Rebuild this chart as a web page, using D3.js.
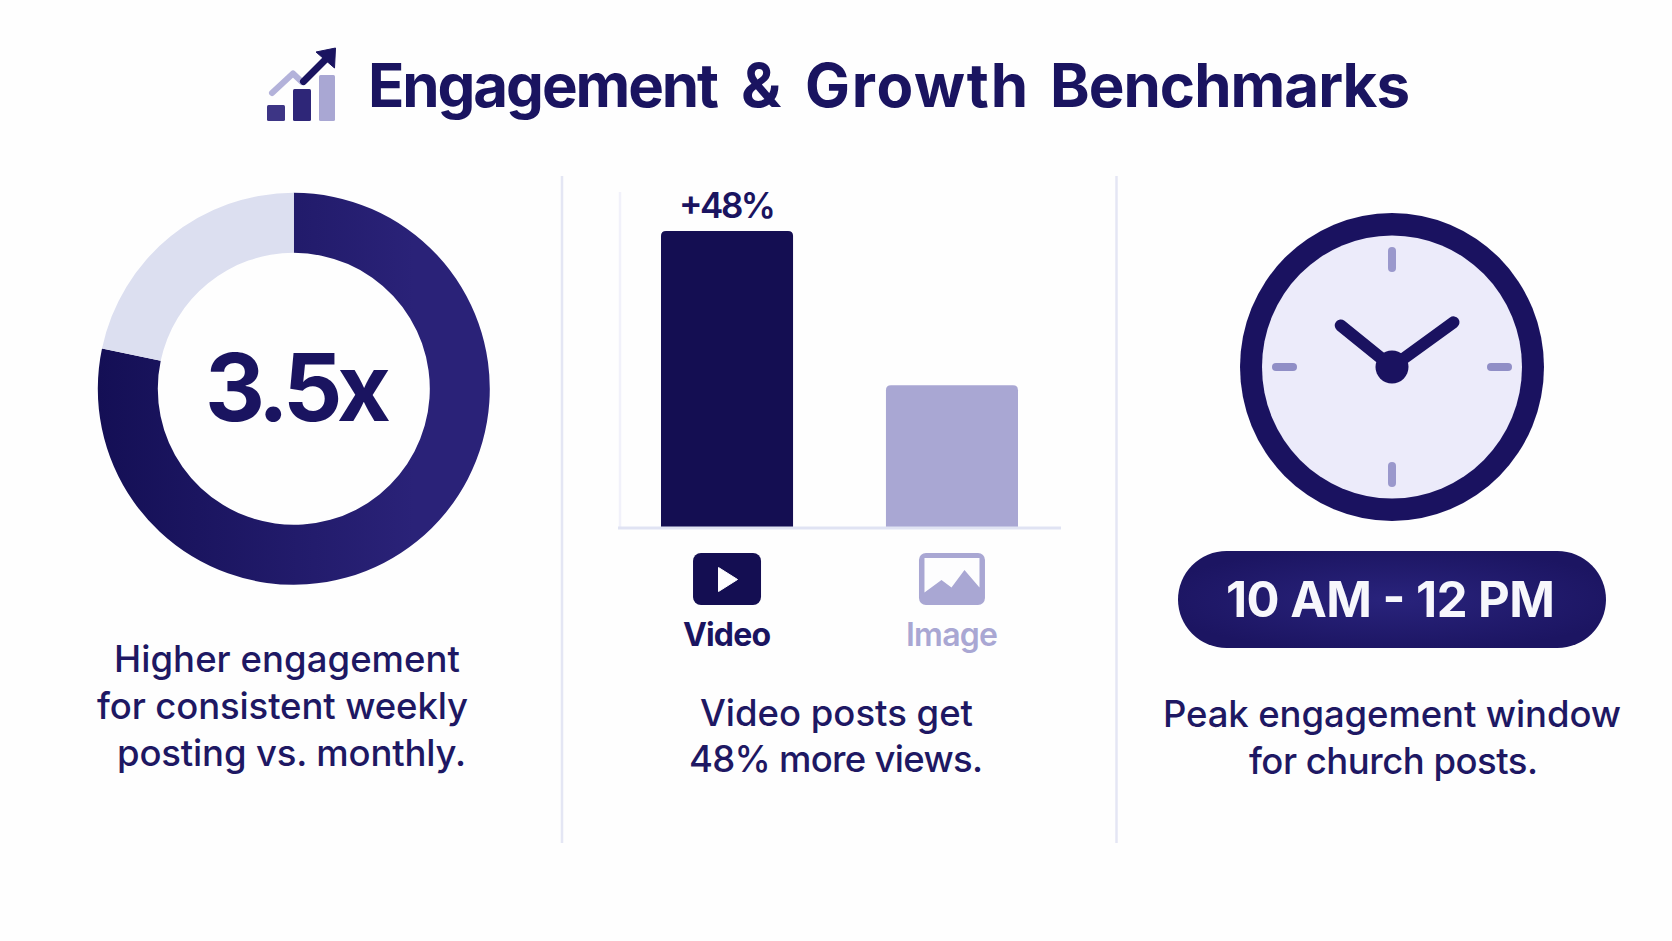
<!DOCTYPE html>
<html>
<head>
<meta charset="utf-8">
<script src="https://cdn.jsdelivr.net/npm/d3@7/dist/d3.min.js"></script>
<style>
html,body{margin:0;padding:0;background:#fefefe;}
svg{display:block;}
text{font-family:Inter,"Noto Sans",sans-serif;}
</style>
</head>
<body>
<svg id="c" width="1672" height="941"></svg>
<script>
const titleWords = ["Engagement", "&", "Growth", "Benchmarks"];
const donutLabels = ["Weekly", "Monthly"];
const donutValues = [3.5, 0.97];
const donutCenter = "3.5x";
const barCategories = ["Video", "Image"];
const barValues = [100, 48];
const barCallout = "+48%";
const clockHour = 10.3;
const clockMinute = 9;
const clockTicks = [0, 3, 6, 9];
const pillText = "10 AM - 12 PM";
const captionsA = ["Higher engagement", "for consistent weekly", "posting vs. monthly."];
const captionsB = ["Video posts get", "48% more views."];
const captionsC = ["Peak engagement window", "for church posts."];

const NAVY = "#1a1460", BAR = "#140e52", LAV = "#a9a7d3", PALE = "#dcdff0", RULE = "#e4e6f4";
const svg = d3.select("#c");
svg.append("rect").attr("width",1672).attr("height",941).attr("fill","#fefefe");
const defs = svg.append("defs");

function lin(id,x1,x2,a,b){
  const g=defs.append("linearGradient").attr("id",id).attr("gradientUnits","userSpaceOnUse")
    .attr("x1",x1).attr("x2",x2).attr("y1",0).attr("y2",0);
  g.append("stop").attr("offset",0).attr("stop-color",a);
  g.append("stop").attr("offset",1).attr("stop-color",b);
}
lin("ring",-196,120,"#140f55","#2a2278");
const pg=defs.append("radialGradient").attr("id","pill").attr("cx","50%").attr("cy","50%").attr("r","55%");
pg.append("stop").attr("offset",0).attr("stop-color","#29237c");
pg.append("stop").attr("offset",1).attr("stop-color","#1c1562");

function label(parent,str,x0,x1,base,size,weight,fill){
  return parent.append("text").text(str).attr("x",x0).attr("y",base)
    .attr("font-size",size).attr("font-weight",weight).attr("fill",fill)
    .attr("textLength",x1-x0).attr("lengthAdjust","spacing");
}

// Title: one text element, each word placed on its measured span
(function(){
  const spans=[[368,719],[741,785],[805,1028],[1050,1410]];
  const t=svg.append("text").attr("y",107).attr("font-size",60).attr("font-weight",700).attr("fill",NAVY);
  titleWords.forEach((w,i)=>{
    const s=t.append("tspan").attr("x",spans[i][0]).text(w);
    const nat=s.node().getComputedTextLength();
    const ls=w.length>1?(spans[i][1]-spans[i][0]-nat)/(w.length-1):0;
    s.style("letter-spacing",ls+"px");
    if(i<titleWords.length-1) s.text(w+" ");
  });
})();
const ic=svg.append("g");
const icBars=[[267,285,105,"#3d3585"],[293,311,89,"#2e2678"],[319,335,75,"#a9a7d3"]];
ic.selectAll("rect").data(icBars).join("rect")
  .attr("x",d=>d[0]).attr("width",d=>d[1]-d[0]).attr("y",d=>d[2]).attr("height",d=>121-d[2])
  .attr("rx",1.5).attr("fill",d=>d[3]);
ic.append("path").attr("d","M272 93L293 73.5L302 82").attr("fill","none").attr("stroke","#b3b2da")
  .attr("stroke-width",6).attr("stroke-linecap","round").attr("stroke-linejoin","round");
ic.append("path").attr("d","M303.5 81.5L329 56").attr("fill","none").attr("stroke",NAVY)
  .attr("stroke-width",7).attr("stroke-linecap","round");
ic.append("path").attr("d","M316 52L335.5 48L334.5 68Z").attr("fill",NAVY).attr("stroke",NAVY).attr("stroke-width",1).attr("stroke-linejoin","round");

// Dividers
svg.selectAll("line.div").data([562,1116.5]).join("line").attr("class","div")
  .attr("x1",d=>d).attr("x2",d=>d).attr("y1",176).attr("y2",843)
  .attr("stroke",RULE).attr("stroke-width",2.5);

// Donut
const donut=svg.append("g").attr("transform","translate(293.8,388.8)");
const pie=d3.pie().sort(null)(donutValues);
const arc=d3.arc().innerRadius(136).outerRadius(196);
donut.selectAll("path").data(pie).join("path").attr("d",arc)
  .attr("fill",(d,i)=>i===0?"url(#ring)":PALE);
label(svg,donutCenter,205,391,420.5,93,700,NAVY);
captionsA.forEach((t,i)=>{
  const sp=[[114,460],[97,468],[117,466]][i];
  label(svg,t,sp[0],sp[1],672+i*47.2,36.5,500,"#1e1863");
});

// Bars
const x=d3.scaleBand().domain(barCategories).range([661,1018]).paddingInner(0.413).paddingOuter(0);
const y=d3.scaleLinear().domain([0,100]).range([527.5,231]);
svg.append("line").attr("x1",620).attr("x2",620).attr("y1",192).attr("y2",528).attr("stroke","#f1f1fa").attr("stroke-width",2.5);
const topRound=(x0,w,yt,yb,r)=>`M${x0} ${yb}V${yt+r}Q${x0} ${yt} ${x0+r} ${yt}H${x0+w-r}Q${x0+w} ${yt} ${x0+w} ${yt+r}V${yb}Z`;
svg.selectAll("path.bar").data(barCategories).join("path").attr("class","bar")
  .attr("d",(c,i)=>topRound(x(c),x.bandwidth(),y(barValues[i]),y(0),5))
  .attr("fill",(c,i)=>i===0?BAR:LAV);
svg.append("line").attr("x1",618).attr("x2",1061).attr("y1",528).attr("y2",528).attr("stroke","#e0e3f3").attr("stroke-width",3);
label(svg,barCallout,679,776,218,35,600,NAVY);

// Category icons
const vx=x("Video")+x.bandwidth()/2, ix=x("Image")+x.bandwidth()/2;
svg.append("rect").attr("x",vx-34).attr("y",553).attr("width",68).attr("height",52).attr("rx",8).attr("fill",BAR);
svg.append("path").attr("d",`M${vx-8.5} 567.5L${vx+10.5} 579.5L${vx-8.5} 591.5Z`).attr("fill","#fff").attr("stroke","#fff").attr("stroke-width",1).attr("stroke-linejoin","round");
svg.append("rect").attr("x",ix-33).attr("y",553).attr("width",66).attr("height",52).attr("rx",7).attr("fill",LAV);
svg.append("path").attr("d",`M${ix-27.5} 558H${ix+27.5}V587.5L${ix+12.5} 570L${ix-0.5} 587.5L${ix-10.5} 580L${ix-27.5} 592.5Z`).attr("fill","#fdfdfe");
label(svg,"Video",683,771,646,32,700,NAVY);
label(svg,"Image",906,998,646,32,600,LAV);
captionsB.forEach((t,i)=>{
  const sp=[[700,973],[689,983]][i];
  label(svg,t,sp[0],sp[1],726+i*45.5,36.5,500,"#1e1863");
});

// Clock
const clock=svg.append("g").attr("transform","translate(1392,367)");
clock.append("ellipse").attr("rx",152).attr("ry",154).attr("fill","#1a1260");
clock.append("ellipse").attr("rx",130).attr("ry",131.5).attr("fill","#ecebfa");
const hr=d3.scaleLinear().domain([0,12]).range([0,2*Math.PI]);
const mn=d3.scaleLinear().domain([0,60]).range([0,2*Math.PI]);
clock.selectAll("line.tick").data(clockTicks).join("line").attr("class","tick")
  .attr("x1",d=>Math.sin(hr(d))*99).attr("x2",d=>Math.sin(hr(d))*116)
  .attr("y1",d=>-Math.cos(hr(d))*99).attr("y2",d=>-Math.cos(hr(d))*116)
  .attr("stroke",d=>d%6===0?"#9a98cc":"#908ec6").attr("stroke-width",8).attr("stroke-linecap","round");
[[hr(clockHour),66],[mn(clockMinute),76]].forEach(h=>{
  clock.append("line").attr("x2",Math.sin(h[0])*h[1]).attr("y2",-Math.cos(h[0])*h[1])
    .attr("stroke","#1a1260").attr("stroke-width",12).attr("stroke-linecap","round");
});
clock.append("circle").attr("r",16.5).attr("fill","#1a1260");

// Pill
svg.append("rect").attr("x",1178).attr("y",551).attr("width",428).attr("height",97).attr("rx",48.5).attr("fill","url(#pill)");
label(svg,pillText,1226,1555,617,49,700,"#f7f7fc");
captionsC.forEach((t,i)=>{
  const sp=[[1163,1621],[1249,1538]][i];
  label(svg,t,sp[0],sp[1],727+i*46.5,36.5,500,"#1e1863");
});
</script>
</body>
</html>
